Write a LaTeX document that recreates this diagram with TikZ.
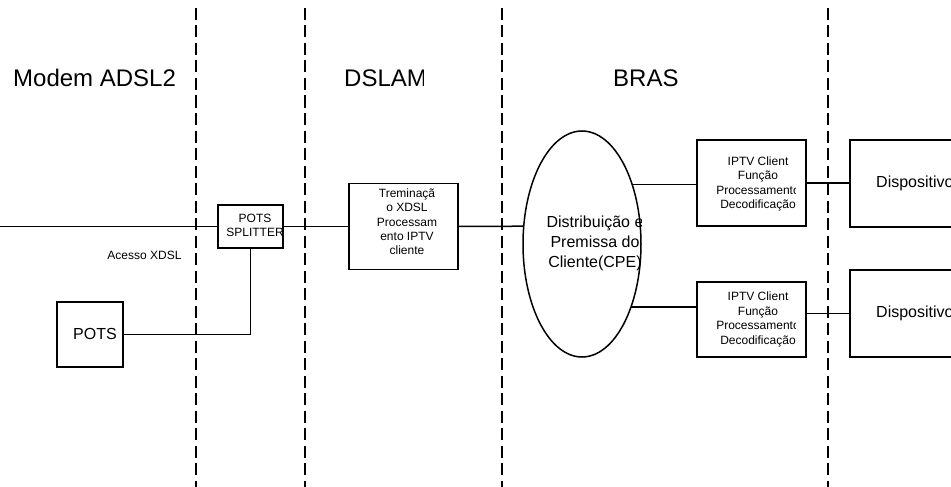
\documentclass[tikz,border=0pt]{standalone}
\usepackage{fontspec}
\setmainfont{Liberation Sans}
\usetikzlibrary{shapes.geometric}
\begin{document}
\begin{tikzpicture}[x=1pt,y=-1pt,
  big/.style={font=\fontsize{24}{28}\selectfont, inner sep=0pt},
  small/.style={font=\fontsize{12}{14.6}\selectfont, align=center, inner sep=0pt},
  mid/.style={font=\fontsize{16}{20}\selectfont, align=center, inner sep=0pt},
  box/.style={draw, line width=1.5pt, inner sep=0pt, outer sep=0pt},
  link/.style={line width=1.5pt},
  zone/.style={line width=2.7pt, dash pattern=on 12pt off 5.5pt},
]
\useasboundingbox (0,0) rectangle (951,487);

% zone separators
\draw[zone] (196,8) -- (196,487);
\draw[zone] (305,8) -- (305,487);
\draw[zone] (502,8) -- (502,487);
\draw[zone] (828,8) -- (828,487);

% zone titles
\node[big, anchor=base west] (modem) at (13,86) {Modem ADSL2};
\begin{scope}
  \clip (340,60) rectangle (423,95);
  \node[big, anchor=base west] (dslamlabel) at (344,86) {DSLAM};
\end{scope}
\node[big, anchor=base west] (braslabel) at (613,86) {BRAS};

% customer side
\node[box, minimum width=66pt, minimum height=65pt] (pots) at (90,334.5) {};
\node[mid] (potstxt) at (95,334) {POTS};
\node[box, minimum width=65pt, minimum height=43pt] (split) at (250.5,226.5) {};
\node[small] (splittxt) at (255,225.5) {POTS\\SPLITTER};
\node[small] (acesso) at (144.5,255) {Acesso XDSL};

% DSLAM
\node[box, minimum width=109pt, minimum height=86pt] (dslam) at (403.5,226.5) {};
\node[small, font=\fontsize{12}{14.3}\selectfont] (dslamtxt) at (407,222)
  {Treminaçã\\o XDSL\\Processam\\ento IPTV\\cliente};

% CPE
\node[draw, ellipse, line width=1.5pt, minimum width=118pt, minimum height=226pt,
      inner sep=0pt, outer sep=0pt] (cpe) at (582,244) {};
\begin{scope}
  \clip (520,200) rectangle (641,285);
  \node[mid] (cpetxt) at (595,243) {Distribuição e\\Premissa do\\Cliente(CPE)};
\end{scope}

% IPTV clients
\node[box, minimum width=109pt, minimum height=86pt] (iptv1) at (751.5,183) {};
\node[box, minimum width=109pt, minimum height=75pt] (iptv2) at (751.5,319.5) {};
\begin{scope}
  \clip (699,141) rectangle (795,225);
  \node[small] (iptv1txt) at (758,184)
    {IPTV Client\\Função\\Processamento\\Decodificação};
\end{scope}
\begin{scope}
  \clip (699,283) rectangle (795,356);
  \node[small] (iptv2txt) at (758,319.5)
    {IPTV Client\\Função\\Processamento\\Decodificação};
\end{scope}

% devices
\node[box, minimum width=109pt, minimum height=87pt] (dev1) at (904.5,183.5) {};
\node[box, minimum width=109pt, minimum height=87pt] (dev2) at (904.5,313.5) {};
\node[mid, anchor=west] (dev1txt) at (876,183) {Dispositivo};
\node[mid, anchor=west] (dev2txt) at (876,313) {Dispositivo};

% connections
\coordinate (linein) at (0,0);
\draw[link] (split.west) -- (split.west -| linein);
\draw[link] (split.east) -- (split.east -| dslam.west);
\draw[link] (dslam.east) -- (cpe.163.3);
\draw[link] (cpe.50.8) -- (cpe.50.8 -| iptv1.west);
\draw[link] (cpe.-52.8) -- (cpe.-52.8 -| iptv2.west);
\draw[link] (iptv1.east) -- (iptv1.east -| dev1.west);
\draw[link] (dev2.west) -- (dev2.west -| iptv2.east);
\draw[link] (pots.east) -- (pots.east -| split.south) -- (split.south);
\end{tikzpicture}
\end{document}
